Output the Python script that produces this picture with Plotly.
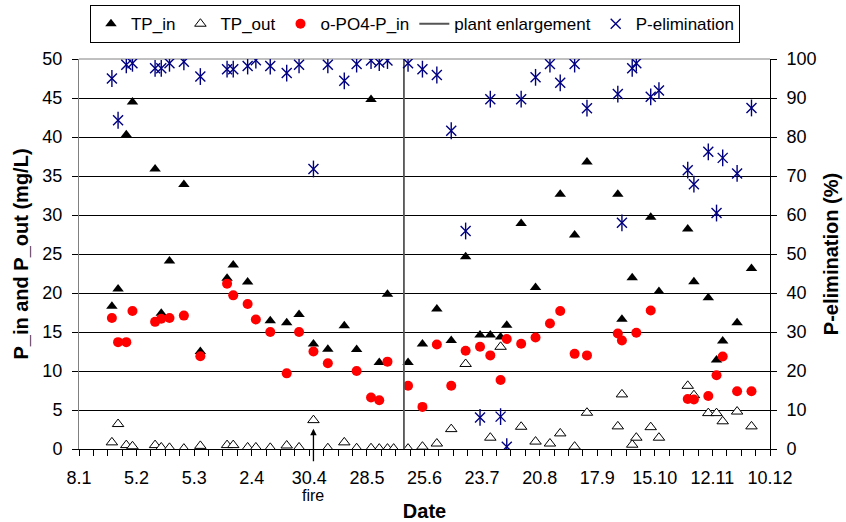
import plotly.graph_objects as go

# ---------------- data ----------------
sample_dates = [
    "2001-01-24", "2001-01-27", "2001-01-31", "2001-02-03", "2001-02-14", "2001-02-17",
    "2001-02-21", "2001-02-28", "2001-03-08", "2001-03-21", "2001-03-24", "2001-03-31",
    "2001-04-04", "2001-04-11", "2001-04-19", "2001-04-25", "2001-05-02", "2001-05-09",
    "2001-05-17", "2001-05-23", "2001-05-30", "2001-06-03", "2001-06-07", "2001-06-10",
    "2001-06-17", "2001-06-24", "2001-07-01", "2001-07-08", "2001-07-15", "2001-07-22",
    "2001-07-27", "2001-08-01", "2001-08-04", "2001-08-11", "2001-08-18", "2001-08-25",
    "2001-08-30", "2001-09-06", "2001-09-12", "2001-09-27", "2001-09-29", "2001-10-04",
    "2001-10-06", "2001-10-13", "2001-10-17", "2001-10-31", "2001-11-03", "2001-11-10",
    "2001-11-14", "2001-11-17", "2001-11-24", "2001-12-01",
]

tp_in = [18.3, 20.5, 40.3, 44.5, 35.9, 17.4, 24.1, 33.9, 12.5, 21.9,
         23.6, 21.4, None, 16.45, 16.2, 17.25, 13.45, 12.8, 15.8, 12.75,
         44.8, 11.1, 19.85, None, 11.1, 13.45, 17.95, 13.9, 24.65, 14.6,
         14.6, 14.35, 15.85, 28.9, 20.7, None, 32.65, 27.45, 36.8, 32.65,
         16.65, 21.95, None, 29.7, 20.2, 28.2, 21.45, 19.4, 11.4, 13.85,
         16.2, 23.15]

tp_out = [0.85, 3.2, 0.5, 0.35, 0.5, 0.2, 0.15, 0.05, 0.4, 0.5,
          0.5, 0.2, 0.2, 0.15, 0.45, 0.2, 3.7, 0.1, 0.85, 0.1,
          0.1, 0.05, 0.05, 0.05, 0.05, 0.3, 0.7, 2.55, 10.9, None,
          1.45, 13.1, None, 2.85, 0.95, 0.7, 2.0, 0.3, 4.65, 2.9,
          7.0, 0.55, 1.45, 2.8, 1.45, 8.1, 6.9, 4.6, 4.6, 3.55,
          4.8, 2.9]

po4_in = [16.8, 13.7, 13.7, 17.7, 16.3, 16.7, 16.8, 17.1, 11.9, 21.2,
          19.7, 18.6, 16.6, 15.0, 9.7, 15.0, 12.5, 11.0, None, 10.0,
          6.6, 6.25, 11.2, None, 8.1, 5.4, 13.4, 8.1, 12.6, 13.1,
          12.0, 8.85, 14.1, 13.5, 14.3, 16.1, 17.7, 12.2, 12.0, 14.8,
          13.9, None, 14.9, 17.75, None, 6.4, 6.35, 6.8, 9.45, 11.85,
          7.4, 7.4]

p_elim = [95.0, 84.3, 98.5, 98.9, 97.6, 97.6, 98.9, 99.3, 95.5, 97.4,
          97.4, 98.2, 99.7, 98.2, 96.4, 98.5, 71.8, 98.5, 94.4, 98.7,
          99.6, 99.1, 99.6, None, 98.9, 97.4, 95.9, 81.6, 55.9, 8.1,
          89.7, 8.3, 0.6, 89.7, 95.3, 98.7, 93.9, 98.7, 87.4, 91.0,
          58.0, 97.6, 98.9, 90.3, 91.9, 71.5, 67.9, 76.2, 60.5, 74.65,
          70.65, 87.45]

tick_dates = ["2001-01-08", "2001-02-05", "2001-03-05", "2001-04-02", "2001-04-30",
              "2001-05-28", "2001-06-25", "2001-07-23", "2001-08-20", "2001-09-17",
              "2001-10-15", "2001-11-12", "2001-12-10"]
tick_labels = ["8.1", "5.2", "5.3", "2.4", "30.4", "28.5", "25.6", "23.7",
               "20.8", "17.9", "15.10", "12.11", "10.12"]

plant_enlargement_date = "2001-06-15"
fire_date = "2001-05-02"

# ---------------- figure ----------------
FONT = "Liberation Sans, Arial, sans-serif"
NAVY = "#000080"

fig = go.Figure()
fig.add_trace(go.Scatter(
    x=sample_dates, y=tp_in, mode="markers", name="TP_in",
    marker=dict(symbol="triangle-up", size=10, color="black")))
fig.add_trace(go.Scatter(
    x=sample_dates, y=tp_out, mode="markers", name="TP_out",
    marker=dict(symbol="triangle-up", size=10, color="white",
                line=dict(color="black", width=1))))
fig.add_trace(go.Scatter(
    x=sample_dates, y=po4_in, mode="markers", name="o-PO4-P_in",
    marker=dict(symbol="circle", size=10, color="#FF0000")))
fig.add_trace(go.Scatter(
    x=[plant_enlargement_date, plant_enlargement_date], y=[0, 50], mode="lines",
    name="plant enlargement", line=dict(color="#555555", width=1.8)))
fig.add_trace(go.Scatter(
    x=sample_dates, y=p_elim, mode="markers", name="P-elimination", yaxis="y2",
    marker=dict(symbol="x-thin-open", size=10, color=NAVY,
                line=dict(color=NAVY, width=1.4))))
fig.add_trace(go.Scatter(
    x=sample_dates, y=p_elim, mode="markers", showlegend=False, yaxis="y2",
    hoverinfo="skip",
    marker=dict(symbol="line-ns-open", size=12, color=NAVY,
                line=dict(color=NAVY, width=1.4))))

fig.update_layout(
    width=846, height=522,
    margin=dict(l=79, r=76, t=59, b=73, autoexpand=False),
    paper_bgcolor="white", plot_bgcolor="white",
    font=dict(family=FONT, size=18, color="black"),
    showlegend=True,
    legend=dict(orientation="h", x=0.0159, xanchor="left", y=1.138, yanchor="top",
                bordercolor="black", borderwidth=1, bgcolor="white",
                font=dict(size=17), itemwidth=30, tracegroupgap=0),
    xaxis=dict(
        type="date", range=["2001-01-08", "2001-12-10"],
        tickmode="array", tickvals=tick_dates, ticktext=tick_labels,
        ticks="outside", ticklen=6, tickcolor="black", tickwidth=1,
        ticklabelstandoff=6,
        showline=True, linecolor="black", linewidth=1,
        showgrid=False, zeroline=False,
        minor=dict(dtick=7 * 86400000, tick0="2001-01-08", ticks="outside",
                   ticklen=6, tickcolor="black", showgrid=False),
        title=dict(text="<b>Date</b>", font=dict(size=20), standoff=17),
    ),
    yaxis=dict(
        range=[0, 50], tick0=0, dtick=5,
        ticks="outside", ticklen=6, tickcolor="black", ticklabelstandoff=6,
        showline=True, linecolor="#808080", linewidth=1,
        showgrid=True, gridcolor="black", gridwidth=1, zeroline=False,
        title=dict(text="<b>P_in and P_out (mg/L)</b>", font=dict(size=20), standoff=8),
    ),
    yaxis2=dict(
        overlaying="y", side="right", range=[0, 100], tick0=0, dtick=10,
        ticks="outside", ticklen=6, tickcolor="black", ticklabelstandoff=6,
        showline=True, linecolor="black", linewidth=1,
        showgrid=False, zeroline=False,
        title=dict(text="<b>P-elimination (%)</b>", font=dict(size=20), standoff=8),
    ),
    shapes=[dict(type="line", xref="paper", yref="paper", x0=0, x1=1, y0=1, y1=1,
                 line=dict(color="#808080", width=1), layer="between")],
    annotations=[
        dict(x=fire_date, y=2.6, xref="x", yref="y", text="", showarrow=True,
             ax=0, ay=34, arrowhead=2, arrowsize=1, arrowwidth=1.3, arrowcolor="black"),
        dict(x=fire_date, y=-0.12, xref="x", yref="paper", text="fire", showarrow=False,
             yanchor="middle", font=dict(size=16)),
    ],
)

fig.write_html("out.html")
